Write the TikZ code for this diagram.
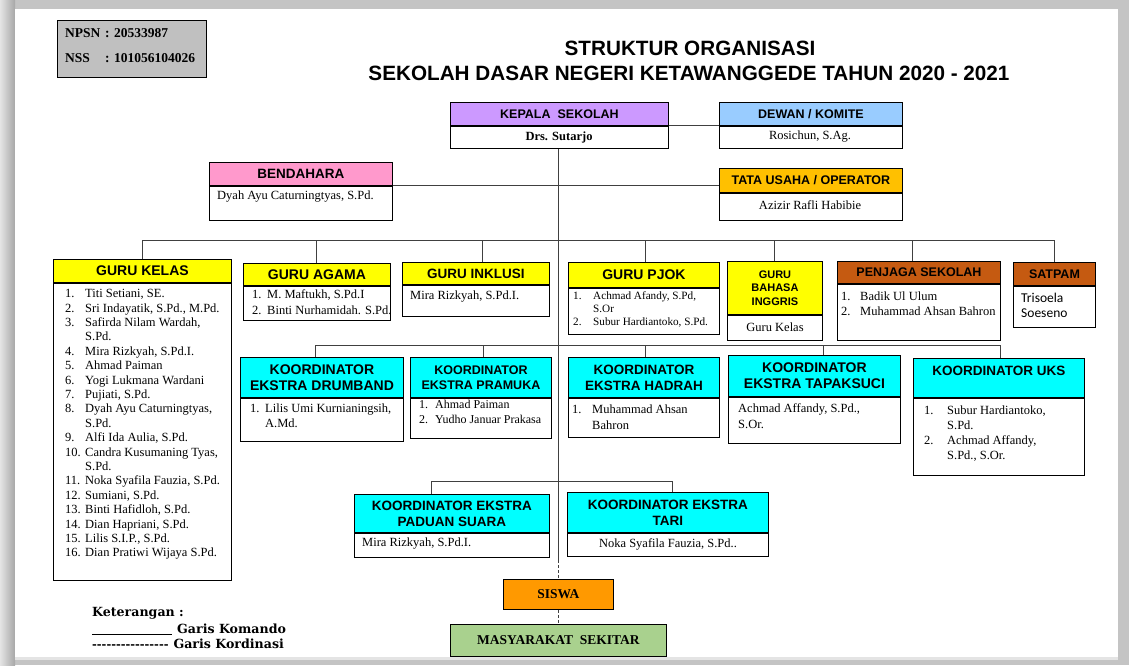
\documentclass[tikz,border=0pt]{standalone}
\usepackage{fontspec}
\setmainfont{Liberation Serif}
\newfontfamily\hf{Liberation Sans}
\newfontfamily\cf{Carlito}
\newfontfamily\lf{DejaVu Serif}
\newcommand\fs[2]{\fontsize{#1}{#2}\selectfont}
\newcommand\litem[3]{\makebox[#1][l]{#2}#3}
\definecolor{kepc}{HTML}{CC99FF}
\definecolor{dewc}{HTML}{99CCFF}
\definecolor{benc}{HTML}{FF99CC}
\definecolor{tuc}{HTML}{FFC000}
\definecolor{guruc}{HTML}{FFFF00}
\definecolor{brownc}{HTML}{C55A11}
\definecolor{koorc}{HTML}{00FFFF}
\definecolor{siswac}{HTML}{FF9900}
\definecolor{masc}{HTML}{A9D18E}
\definecolor{npsnc}{HTML}{C0C0C0}
\definecolor{linec}{HTML}{404040}
\definecolor{frameA}{HTML}{C4C4C4}
\definecolor{frameB}{HTML}{E4E4E4}
\tikzset{
  box/.style={draw=black, line width=0.9pt, inner sep=0pt, anchor=north west},
  hd/.style={box, align=center, text=black, font=\hf\bfseries\fs{13}{16}},
  bd/.style={box, fill=white},
  bt/.style={inner sep=0pt, anchor=north west, align=left, font=\fs{12.5}{14.3}},
  bw/.style={inner sep=0pt, anchor=west, font=\fs{12.5}{14.3}},
  bc/.style={inner sep=0pt, anchor=center, font=\fs{12.5}{14.3}},
  link/.style={draw=linec, line width=1pt},
  coordline/.style={draw=linec, line width=1pt, dash pattern=on 3pt off 2pt},
  lg/.style={inner sep=0pt, anchor=west, font=\lf\bfseries\fs{12.6}{15}},
}
\newcommand\orgunit[9]{%
  \node[hd, fill=#7, minimum width=#4pt, minimum height=#5pt, #8] (#1h) at (#2,#3) {#9};
  \node[bd, minimum width=#4pt, minimum height=#6pt] (#1) at (#1h.south west) {};}
\begin{document}
\begin{tikzpicture}[x=1pt,y=-1pt]
\useasboundingbox (0,0) rectangle (1129,665);
% frame
\fill[frameA] (0,0) rectangle (1129,665);
\shade[left color=frameB, right color=frameA!85!black] (0,0) rectangle (15,665);
\fill[frameB] (15,657) rectangle (1118,660);
\fill[white] (15,9) rectangle (1118,657);

% id box
\node[box, fill=npsnc, minimum width=149pt, minimum height=57pt] (npsn) at (57,20) {};
\node[inner sep=0pt, anchor=west, font=\bfseries\fs{13.5}{16}] (npsnt) at (65,33) {\makebox[40pt][l]{NPSN}: 20533987};
\node[inner sep=0pt, anchor=west, font=\bfseries\fs{13.5}{16}] (nsst) at (65,58) {\makebox[40pt][l]{NSS}: 101056104026};

% title
\node[font=\hf\bfseries\fs{20.7}{24}, inner sep=0pt] (t1) at (690,48) {STRUKTUR ORGANISASI};
\node[font=\hf\bfseries\fs{20.7}{24}, inner sep=0pt] (t2) at (689,73) {SEKOLAH DASAR NEGERI KETAWANGGEDE TAHUN 2020 - 2021};

% top units
\orgunit{kep}{450}{102}{218}{23}{22}{kepc}{font=\hf\bfseries\fs{12.5}{15}}{KEPALA\ \ SEKOLAH}
\node[bc, font=\bfseries\fs{12.5}{14}] (kept) at (559,137) {Drs. Sutarjo};
\orgunit{dew}{719}{102}{183}{23}{22}{dewc}{font=\hf\bfseries\fs{12.5}{15}}{DEWAN / KOMITE}
\node[bc] (dewt) at (810,137) {Rosichun, S.Ag.};
\orgunit{ben}{209}{162}{183}{23}{34}{benc}{font=\hf\bfseries\fs{13.5}{15}}{BENDAHARA}
\node[bw] (bent) at (217,197) {Dyah Ayu Caturningtyas, S.Pd.};
\orgunit{tu}{719}{168}{183}{24}{27}{tuc}{font=\hf\bfseries\fs{12.5}{15}}{TATA USAHA / OPERATOR}
\node[bc] (tut) at (810,205) {Azizir Rafli Habibie};

% guru row
\orgunit{gk}{53}{259}{178}{23}{297}{guruc}{font=\hf\bfseries\fs{14}{16}}{GURU KELAS}
\node[bt, font=\fs{12.5}{14.4}] (gkt) at (65,287.4) {\strut\litem{20pt}{1.}{Titi Setiani, SE.}\\
\litem{20pt}{2.}{Sri Indayatik, S.Pd., M.Pd.}\\
\litem{20pt}{3.}{Safirda Nilam Wardah,}\\
\litem{20pt}{}{S.Pd.}\\
\litem{20pt}{4.}{Mira Rizkyah, S.Pd.I.}\\
\litem{20pt}{5.}{Ahmad Paiman}\\
\litem{20pt}{6.}{Yogi Lukmana Wardani}\\
\litem{20pt}{7.}{Pujiati, S.Pd.}\\
\litem{20pt}{8.}{Dyah Ayu Caturningtyas,}\\
\litem{20pt}{}{S.Pd.}\\
\litem{20pt}{9.}{Alfi Ida Aulia, S.Pd.}\\
\litem{20pt}{10.}{Candra Kusumaning Tyas,}\\
\litem{20pt}{}{S.Pd.}\\
\litem{20pt}{11.}{Noka Syafila Fauzia, S.Pd.}\\
\litem{20pt}{12.}{Sumiani, S.Pd.}\\
\litem{20pt}{13.}{Binti Hafidloh, S.Pd.}\\
\litem{20pt}{14.}{Dian Hapriani, S.Pd.}\\
\litem{20pt}{15.}{Lilis S.I.P., S.Pd.}\\
\litem{20pt}{16.}{Dian Pratiwi Wijaya S.Pd.}};

\orgunit{ag}{243}{263}{147}{22}{34}{guruc}{font=\hf\bfseries\fs{14}{16}}{GURU AGAMA}
\node[bt, font=\fs{12.5}{16}] (agt) at (252,287.2) {\strut\litem{15pt}{1.}{M. Maftukh, S.Pd.I}\\
\litem{15pt}{2.}{Binti Nurhamidah. S.Pd.}};

\orgunit{in}{402}{262}{147}{22}{31}{guruc}{font=\hf\bfseries\fs{13.5}{16}}{GURU INKLUSI}
\node[bw] (int) at (410,297) {Mira Rizkyah, S.Pd.I.};

\orgunit{pj}{568}{262}{151}{25}{46}{guruc}{font=\hf\bfseries\fs{14}{16}}{GURU PJOK}
\node[bt, font=\fs{11.2}{13.3}] (pjt) at (573,289.6) {\strut\litem{20pt}{1.}{Achmad Afandy, S.Pd,}\\
\litem{20pt}{}{S.Or}\\
\litem{20pt}{2.}{Subur Hardiantoko, S.Pd.}};

\orgunit{bi}{727}{261}{95}{53}{25}{guruc}{font=\hf\bfseries\fs{11}{13.3}}{GURU\\BAHASA\\INGGRIS}
\node[bc] (bit) at (775,327) {Guru Kelas};

\orgunit{pg}{837}{261}{163}{22}{56}{brownc}{font=\hf\bfseries\fs{12.5}{15}}{PENJAGA SEKOLAH}
\node[bt, font=\fs{12.5}{15.3}] (pgt) at (841,289.2) {\strut\litem{19pt}{1.}{Badik Ul Ulum}\\
\litem{19pt}{2.}{Muhammad Ahsan Bahron}};

\orgunit{sat}{1013}{262}{82}{23}{41}{brownc}{font=\hf\bfseries\fs{12.5}{15}}{SATPAM}
\node[bt, font=\cf\fs{13.5}{15.5}] (satt) at (1021,291.4) {\strut Trisoela\\Soeseno};

% koordinator row
\orgunit{dr}{240}{357}{163}{40}{43}{koorc}{font=\hf\bfseries\fs{14}{16}}{KOORDINATOR\\EKSTRA DRUMBAND}
\node[bt, font=\fs{12.5}{14.5}] (drt) at (250,402.3) {\strut\litem{15pt}{1.}{Lilis Umi Kurnianingsih,}\\
\litem{15pt}{}{A.Md.}};

\orgunit{pr}{410}{357}{141}{40}{40}{koorc}{font=\hf\bfseries\fs{12.5}{15.5}}{KOORDINATOR\\EKSTRA PRAMUKA}
\node[bt, font=\fs{12}{15.5}] (prt) at (419,397) {\strut\litem{16pt}{1.}{Ahmad Paiman}\\
\litem{16pt}{2.}{Yudho Januar Prakasa}};

\orgunit{ha}{568}{357}{151}{40}{39}{koorc}{font=\hf\bfseries\fs{13.5}{16}}{KOORDINATOR\\EKSTRA HADRAH}
\node[bt, font=\fs{12.5}{16}] (hat) at (572,402.2) {\strut\litem{20pt}{1.}{Muhammad Ahsan}\\
\litem{20pt}{}{Bahron}};

\orgunit{tp}{728}{355}{172}{41}{46}{koorc}{font=\hf\bfseries\fs{14}{16}}{KOORDINATOR\\EKSTRA TAPAKSUCI}
\node[bt, font=\fs{12.5}{15.5}] (tpt) at (738,401.6) {\strut Achmad Affandy, S.Pd.,\\S.Or.};

\orgunit{uks}{913}{358}{171}{39}{77}{koorc}{font=\hf\bfseries\fs{13.5}{14}}{KOORDINATOR UKS\\\mbox{}}
\node[bt, font=\fs{12.5}{15}] (ukst) at (924,403.9) {\strut\litem{23pt}{1.}{Subur Hardiantoko,}\\
\litem{23pt}{}{S.Pd.}\\
\litem{23pt}{2.}{Achmad Affandy,}\\
\litem{23pt}{}{S.Pd., S.Or.}};

% third row
\orgunit{ps}{354}{494}{195}{38}{24}{koorc}{font=\hf\bfseries\fs{13.5}{16}}{KOORDINATOR EKSTRA\\PADUAN SUARA}
\node[bw] (pst) at (362,544) {Mira Rizkyah, S.Pd.I.};
\orgunit{ta}{567}{492}{201}{40}{23}{koorc}{font=\hf\bfseries\fs{13.5}{16}}{KOORDINATOR EKSTRA\\TARI}
\node[bc] (tat) at (668,544) {Noka Syafila Fauzia, S.Pd..};

% siswa & masyarakat
\node[box, fill=siswac, minimum width=110pt, minimum height=30pt, font=\bfseries\fs{13.5}{15}] (siswa) at (503,579) {SISWA};
\node[box, fill=masc, minimum width=216pt, minimum height=32pt, font=\bfseries\fs{13.5}{15}] (mas) at (450,624) {MASYARAKAT\ \ SEKITAR};

% connectors
\coordinate (b1) at (558,240);
\coordinate (b2) at (558,345);
\coordinate (b3) at (558,481);
\coordinate (solidend) at (558,560);
\draw[link] (keph.south east) -- (dewh.south west);
\draw[link] (kep.south -| b1) -- (solidend);
\draw[coordline] (solidend) -- (siswa.north -| b1);
\draw[coordline] (siswa.south -| b1) -- (mas.north -| b1);
\draw[link] (benh.south east) -- (tuh.west |- benh.south east);
% bus 1
\draw[link] (gkh.north) |- (sath.north |- b1) -- (sath.north);
\draw[link] (agh.north) -- (agh.north |- b1);
\draw[link] ([xshift=7pt]inh.north) -- ([xshift=7pt]inh.north |- b1);
\draw[link] ([xshift=2pt]pjh.north) -- ([xshift=2pt]pjh.north |- b1);
\draw[link] (bih.north) -- (bih.north |- b1);
\draw[link] ([xshift=-6pt]pgh.north) -- ([xshift=-6pt]pgh.north |- b1);
% bus 2
\draw[link] ([xshift=-6pt]drh.north) |- ([xshift=2pt]uksh.north |- b2) -- ([xshift=2pt]uksh.north);
\draw[link] ([xshift=3pt]prh.north) -- ([xshift=3pt]prh.north |- b2);
\draw[link] ([xshift=2pt]hah.north) -- ([xshift=2pt]hah.north |- b2);
\draw[link] ([xshift=9pt]tph.north) -- ([xshift=9pt]tph.north |- b2);
% bus 3
\draw[link] ([xshift=-20pt]psh.north) |- ([xshift=5pt]tah.north |- b3) -- ([xshift=5pt]tah.north);

% legend
\node[lg] (k1) at (92,613) {Keterangan :};
\node[lg] (k2) at (92,629) {\rule[-1.5pt]{80pt}{0.8pt}\hspace{5pt}Garis Komando};
\node[lg] (k3) at (92,644) {{\fs{11.5}{15}-{}-{}-{}-{}-{}-{}-{}-{}-{}-{}-{}-{}-{}-{}-{}-}\hspace{5pt}Garis Kordinasi};
\end{tikzpicture}
\end{document}
